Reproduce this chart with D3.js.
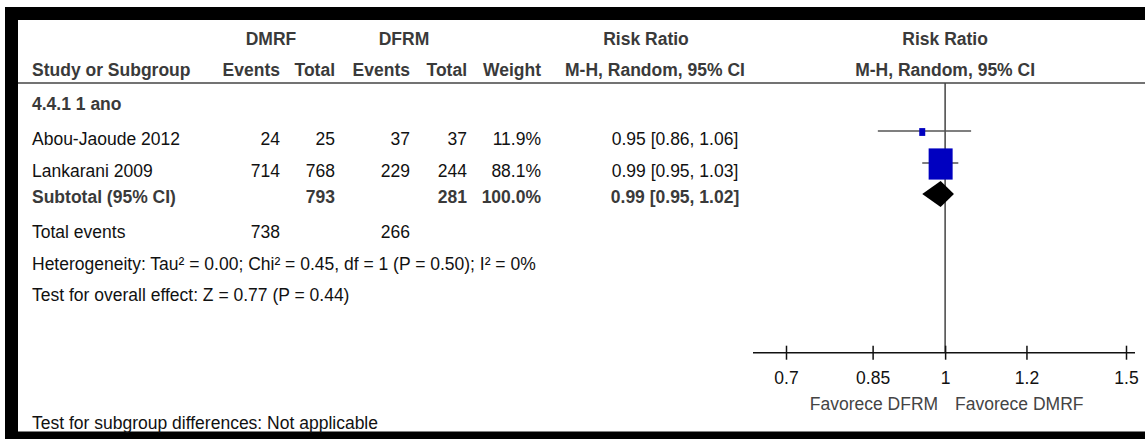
<!DOCTYPE html>
<html>
<head>
<meta charset="utf-8">
<script src="https://cdn.jsdelivr.net/npm/d3@7"></script>
<style>
  body { margin: 0; background: #fff; }
  svg text { font-family: "Liberation Sans", Arial, sans-serif; font-size: 17.5px; }
  .bold { font-weight: bold; fill: #3a3a3a; }
  .plain { fill: #111; }
</style>
</head>
<body>
<svg width="1145" height="439"></svg>
<script>
// data
const studies = ["Abou-Jaoude 2012", "Lankarani 2009"];
const dmrfEvents = [24, 714];
const dmrfTotal = [25, 768];
const dfrmEvents = [37, 229];
const dfrmTotal = [37, 244];
const weights = [11.9, 88.1];
const rr = [0.95, 0.99];
const ciLow = [0.86, 0.95];
const ciHigh = [1.06, 1.03];
const subtotal = { total1: 793, total2: 281, weight: 100.0, rr: 0.99, lo: 0.95, hi: 1.02 };
const totalEvents = [738, 266];
const tickValues = [0.7, 0.85, 1, 1.2, 1.5];

const svg = d3.select("svg");
const width = +svg.attr("width");
const height = +svg.attr("height");

// frame
svg.append("rect").attr("x", 5).attr("y", 7).attr("width", width - 5).attr("height", 13).attr("fill", "#000");
svg.append("rect").attr("x", 5).attr("y", 7).attr("width", 13).attr("height", height - 7).attr("fill", "#000");
svg.append("rect").attr("x", 5).attr("y", 431.5).attr("width", width - 5).attr("height", 8).attr("fill", "#000");

// column right edges
const col = { ev1: 280, tot1: 335, ev2: 410, tot2: 467, weight: 541 };
const ciCenter = 675;
const leftX = 32;

const rowY = { head1: 45, head2: 76, group: 110, study: [145, 177], subtotal: 203, events: 238, het: 270, overall: 301, subgroup: 429 };

function txt(x, y, s, cls, anchor) {
  return svg.append("text").attr("x", x).attr("y", y).attr("class", cls)
    .attr("text-anchor", anchor || "start").text(s);
}

// headers
txt(271, rowY.head1, "DMRF", "bold", "middle");
txt(404, rowY.head1, "DFRM", "bold", "middle");
txt(646, rowY.head1, "Risk Ratio", "bold", "middle");
txt(leftX, rowY.head2, "Study or Subgroup", "bold");
txt(col.ev1, rowY.head2, "Events", "bold", "end");
txt(col.tot1, rowY.head2, "Total", "bold", "end");
txt(col.ev2, rowY.head2, "Events", "bold", "end");
txt(col.tot2, rowY.head2, "Total", "bold", "end");
txt(col.weight, rowY.head2, "Weight", "bold", "end");
txt(655, rowY.head2, "M-H, Random, 95% CI", "bold", "middle");

// forest scale
const x = d3.scaleLog().domain([0.7, 1.5]).range([786, 1126]);
const axisY = 352.7;

txt(x(1), rowY.head1, "Risk Ratio", "bold", "middle");
txt(x(1), rowY.head2, "M-H, Random, 95% CI", "bold", "middle");

svg.append("line").attr("x1", 18).attr("x2", width).attr("y1", 83).attr("y2", 83)
  .attr("stroke", "#444").attr("stroke-width", 1.5);

txt(leftX, rowY.group, "4.4.1 1 ano", "bold");

const fmt = d3.format(".2f");
const pct = d => d3.format(".1f")(d) + "%";

studies.forEach((s, i) => {
  const y = rowY.study[i];
  txt(leftX, y, s, "plain");
  txt(col.ev1, y, dmrfEvents[i], "plain", "end");
  txt(col.tot1, y, dmrfTotal[i], "plain", "end");
  txt(col.ev2, y, dfrmEvents[i], "plain", "end");
  txt(col.tot2, y, dfrmTotal[i], "plain", "end");
  txt(col.weight, y, pct(weights[i]), "plain", "end");
  txt(ciCenter, y, `${fmt(rr[i])} [${fmt(ciLow[i])}, ${fmt(ciHigh[i])}]`, "plain", "middle");
});

txt(leftX, rowY.subtotal, "Subtotal (95% CI)", "bold");
txt(col.tot1, rowY.subtotal, subtotal.total1, "bold", "end");
txt(col.tot2, rowY.subtotal, subtotal.total2, "bold", "end");
txt(col.weight, rowY.subtotal, pct(subtotal.weight), "bold", "end");
txt(ciCenter, rowY.subtotal, `${fmt(subtotal.rr)} [${fmt(subtotal.lo)}, ${fmt(subtotal.hi)}]`, "bold", "middle");

txt(leftX, rowY.events, "Total events", "plain");
txt(col.ev1, rowY.events, totalEvents[0], "plain", "end");
txt(col.ev2, rowY.events, totalEvents[1], "plain", "end");
txt(leftX, rowY.het, "Heterogeneity: Tau\u00b2 = 0.00; Chi\u00b2 = 0.45, df = 1 (P = 0.50); I\u00b2 = 0%", "plain");
txt(leftX, rowY.overall, "Test for overall effect: Z = 0.77 (P = 0.44)", "plain");
txt(leftX, rowY.subgroup, "Test for subgroup differences: Not applicable", "plain");

// line of no effect
svg.append("line").attr("x1", x(1)).attr("x2", x(1)).attr("y1", 83).attr("y2", axisY)
  .attr("stroke", "#444").attr("stroke-width", 1.5);

// study CIs and squares
const size = d3.scaleLinear().domain([0, 100]).range([3.2, 26.8]);
const g = svg.append("g");
g.selectAll(".ci").data(studies).enter().append("line")
  .attr("x1", (d, i) => x(ciLow[i])).attr("x2", (d, i) => x(ciHigh[i]))
  .attr("y1", (d, i) => rowY.study[i] - 14).attr("y2", (d, i) => rowY.study[i] - 14)
  .attr("stroke", "#555").attr("stroke-width", 1.5);
g.selectAll(".sq").data(studies).enter().append("rect")
  .attr("x", (d, i) => x(rr[i]) - size(weights[i]) / 2)
  .attr("y", (d, i) => rowY.study[i] - 13 - size(weights[i]) * 0.65)
  .attr("width", (d, i) => size(weights[i]))
  .attr("height", (d, i) => size(weights[i]) * 1.3)
  .attr("fill", "#0000c0");

// diamond
const dy = rowY.subtotal - 9;
svg.append("path")
  .attr("d", `M${x(subtotal.lo)},${dy} L${x(subtotal.rr)},${dy - 13} L${x(subtotal.hi)},${dy} L${x(subtotal.rr)},${dy + 13} Z`)
  .attr("fill", "#000");

// axis
svg.append("line").attr("x1", x.range()[0] - 33).attr("x2", x.range()[1] + 9)
  .attr("y1", axisY).attr("y2", axisY).attr("stroke", "#111").attr("stroke-width", 1.5);
const axis = svg.append("g").attr("transform", `translate(0,${axisY})`)
  .call(d3.axisBottom(x).tickValues(tickValues).tickFormat(d => d).tickSize(7).tickPadding(12));
axis.select(".domain").remove();
axis.selectAll(".tick line").attr("y1", -7).attr("stroke", "#111").attr("stroke-width", 1.5);
axis.selectAll(".tick text").attr("fill", "#111").style("font-size", "17.5px")
  .style("font-family", "'Liberation Sans', Arial, sans-serif");

svg.append("text").attr("x", x(1) - 7).attr("y", 410).attr("text-anchor", "end")
  .attr("fill", "#444").text("Favorece DFRM");
svg.append("text").attr("x", x(1) + 10).attr("y", 410).attr("text-anchor", "start")
  .attr("fill", "#444").text("Favorece DMRF");
</script>
</body>
</html>
